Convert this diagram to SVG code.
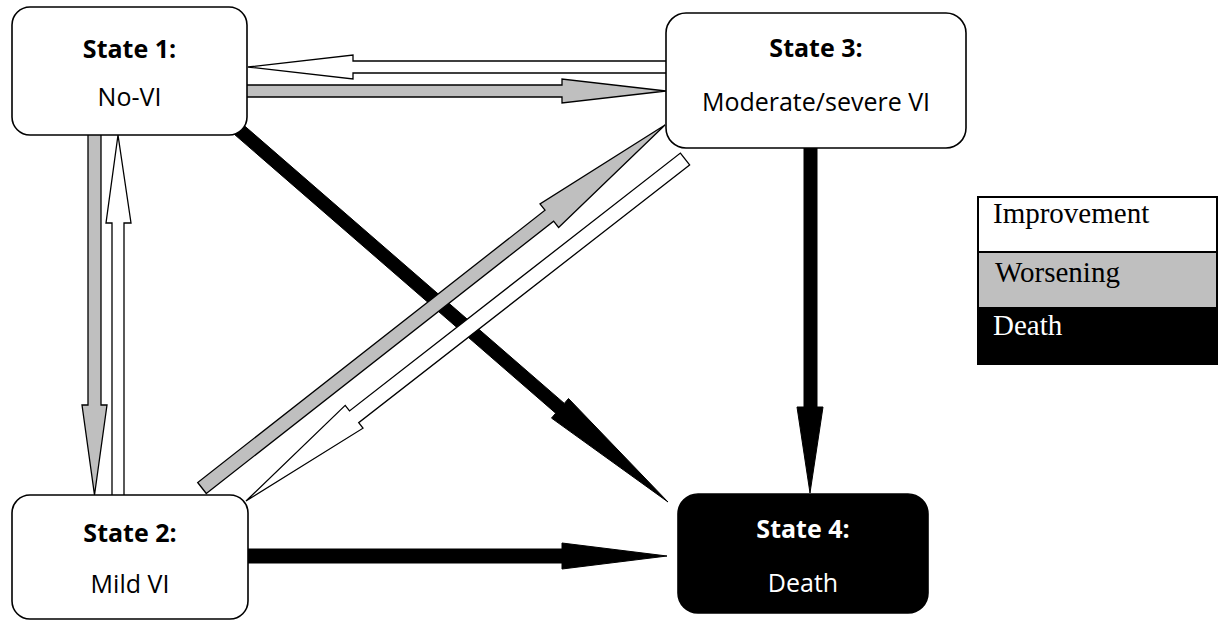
<svg xmlns="http://www.w3.org/2000/svg" width="1218" height="620" viewBox="0 0 1218 620">
<style>
.imp{fill:#ffffff;stroke:#000;stroke-width:1.3;stroke-linejoin:miter}
.wor{fill:#bfbfbf;stroke:#000;stroke-width:1.3;stroke-linejoin:miter}
.dth{fill:#000;stroke:#000;stroke-width:1}
.box{fill:#fff;stroke:#000;stroke-width:1.6}
.boxd{fill:#000;stroke:#000;stroke-width:1.6}
.t{font-family:"Open Sans","Noto Sans",sans-serif;font-size:25px;text-anchor:middle;fill:#000}
.b{font-weight:bold}
.w{fill:#fff}
.lg{font-family:"Liberation Serif","Times New Roman",serif;font-size:29px}
</style>
<rect width="1218" height="620" fill="#fff"/>
<g id="connectors">
<polygon class="dth" points="227.4,128.3 555.7,413.2 551.5,418.1 668,502 568.5,398.5 564.3,403.4 236,118.5"/>
<polygon class="wor" points="206.3,493.5 553.6,221.2 558.6,227.5 665,125 540,203.9 545,210.2 197.7,482.5"/>
<polygon class="imp" points="689.6,164.9 358.7,422.7 363,428.2 246,501 345.2,405.4 349.5,410.9 680.4,153.1"/>
<polygon class="imp" points="668,61 353,61 353,55 248,67 353,79 353,73 668,73"/>
<polygon class="wor" points="245,85 562,85 562,79 666,91 562,103 562,97 245,97"/>
<polygon class="wor" points="88,133 88,405 82,405 94.5,495 107,405 101,405 101,133"/>
<polygon class="imp" points="112,497 112,223 106,223 118,135 131,223 124,223 124,497"/>
<polygon class="dth" points="804,146 804,407 797,407 810,493 823,407 817,407 817,146"/>
<polygon class="dth" points="246,549 562,549 562,543 667,556 562,569 562,563 246,563"/>
</g>
<g id="state1">
<rect class="box" x="12" y="7" width="235" height="128" rx="18"/>
<text class="t b" x="129.5" y="58">State 1:</text>
<text class="t" x="129.5" y="106">No-VI</text>
</g>
<g id="state2">
<rect class="box" x="12" y="495" width="236" height="124" rx="18"/>
<text class="t b" x="130" y="542">State 2:</text>
<text class="t" x="130" y="593">Mild VI</text>
</g>
<g id="state3">
<rect class="box" x="666" y="13" width="300" height="135" rx="20"/>
<text class="t b" x="816" y="57">State 3:</text>
<text class="t" x="816" y="111">Moderate/severe VI</text>
</g>
<g id="state4">
<rect class="boxd" x="678" y="494" width="250" height="119" rx="20"/>
<text class="t b w" x="803" y="538">State 4:</text>
<text class="t w" x="803" y="592">Death</text>
</g>
<g id="legend">
<rect x="978" y="197" width="239" height="55" fill="#fff"/>
<rect x="978" y="252" width="239" height="55" fill="#bfbfbf"/>
<rect x="978" y="307" width="239" height="57" fill="#000"/>
<rect x="978" y="197" width="239" height="167" fill="none" stroke="#000" stroke-width="2"/>
<line x1="978" y1="252" x2="1217" y2="252" stroke="#000" stroke-width="2"/>
<text class="lg" x="993" y="223">Improvement</text>
<text class="lg" x="995" y="282">Worsening</text>
<text class="lg" x="993" y="335" fill="#fff">Death</text>
</g>
</svg>
